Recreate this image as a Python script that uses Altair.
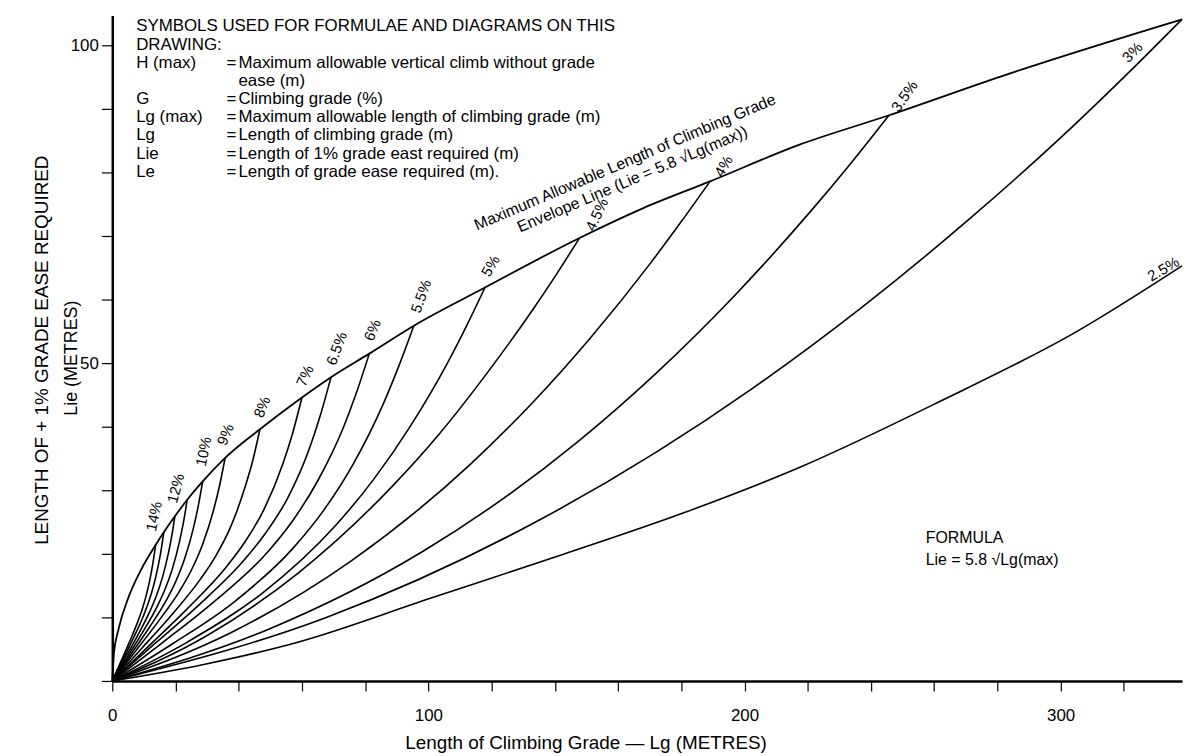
import altair as alt
import pandas as pd

# ---------------- data ----------------
# Grade curves: Lg (m) and Lie (m) points, origin to envelope
LG_2_5 = [0, 28.9, 58.7, 100.6, 142.5, 181.0, 217.9, 261.9, 303.8, 338.4]
LIE_2_5 = [0, 2.6, 6.1, 13.0, 19.9, 26.5, 33.7, 44.0, 54.6, 65.3]
LG_3 = [0, 67.7, 135.4, 203.0, 236.9, 270.7, 304.6, 321.5, 338.4]
LIE_3 = [0, 9.99, 25.4, 46.2, 58.7, 72.5, 87.6, 95.7, 104.1]
LG_3_5 = [0, 49.1, 98.3, 147.4, 172.0, 196.6, 221.1, 233.4, 245.7]
LIE_3_5 = [0, 8.06, 20.4, 37.7, 48.4, 60.5, 74.0, 81.3, 89.0]
LG_4 = [0, 37.8, 75.6, 113.5, 132.4, 151.3, 170.2, 179.6, 189.1]
LIE_4 = [0, 7.66, 18.9, 34.2, 43.5, 54.0, 65.7, 72.0, 78.6]
LG_4_5 = [0, 29.6, 59.1, 88.7, 103.5, 118.2, 133.0, 140.4, 147.8]
LIE_4_5 = [0, 7.03, 17.1, 30.7, 38.9, 48.2, 58.4, 63.9, 69.7]
LG_5 = [0, 23.6, 47.2, 70.7, 82.5, 94.3, 106.1, 112.0, 117.9]
LIE_5 = [0, 6.08, 13.7, 24.5, 31.6, 40.1, 50.1, 55.8, 61.9]
LG_5_5 = [0, 19.1, 38.2, 57.2, 66.8, 76.3, 85.9, 90.6, 95.4]
LIE_5_5 = [0, 5.86, 12.3, 20.9, 26.8, 34.2, 43.8, 49.5, 55.9]
LG_6 = [0, 16.3, 32.5, 48.8, 56.9, 65.0, 73.2, 77.2, 81.3]
LIE_6 = [0, 6.19, 12.6, 20.1, 25.1, 31.5, 40.0, 45.3, 51.5]
LG_6_5 = [0, 13.8, 27.7, 41.5, 48.4, 55.4, 62.3, 65.7, 69.2]
LIE_6_5 = [0, 6.02, 12.1, 18.9, 23.2, 28.7, 36.5, 41.6, 47.8]
LG_7 = [0, 12.0, 24.0, 36.0, 42.0, 48.0, 54.0, 57.0, 60.0]
LIE_7 = [0, 5.71, 11.5, 17.9, 21.9, 27.0, 34.2, 38.9, 44.6]
LG_8 = [0, 9.34, 18.7, 28.0, 32.7, 37.4, 42.0, 44.4, 46.7]
LIE_8 = [0, 5.15, 10.35, 16.1, 19.65, 24.2, 30.5, 34.6, 39.6]
LG_9 = [0, 7.14, 14.28, 21.42, 24.99, 28.56, 32.13, 33.92, 35.7]
LIE_9 = [0, 4.56, 9.18, 14.26, 17.42, 21.47, 27.06, 30.71, 35.1]
LG_10 = [0, 5.72, 11.44, 17.16, 20.02, 22.88, 25.74, 27.17, 28.6]
LIE_10 = [0, 4.08, 8.21, 12.76, 15.58, 19.21, 24.21, 27.47, 31.4]
LG_11 = [0, 4.74, 9.48, 14.22, 16.59, 18.96, 21.33, 22.52, 23.7]
LIE_11 = [0, 3.76, 7.56, 11.74, 14.3, 17.58, 22.07, 24.98, 28.5]
LG_12 = [0, 3.96, 7.92, 11.88, 13.86, 15.84, 17.82, 18.81, 19.8]
LIE_12 = [0, 3.52, 7.07, 10.95, 13.3, 16.26, 20.26, 22.82, 25.9]
LG_13 = [0, 3.26, 6.52, 9.78, 11.41, 13.04, 14.67, 15.49, 16.3]
LIE_13 = [0, 3.27, 6.58, 10.15, 12.29, 14.94, 18.47, 20.72, 23.4]
LG_14 = [0, 2.74, 5.48, 8.22, 9.59, 10.96, 12.33, 13.02, 13.7]
LIE_14 = [0, 3.08, 6.19, 9.53, 11.49, 13.9, 17.05, 19.04, 21.4]

# Envelope line  Lie = 5.8 sqrt(Lg(max))
ENV_LG = [0, 0.5, 2, 5, 9, 13.7, 16.3, 19.8, 23.7, 28.6, 35.7, 46.7, 60.0, 69.2,
          81.3, 95.4, 117.9, 147.8, 168, 189.1, 217, 245.7, 284, 338.4]
ENV_LIE = [0, 4.2, 8.2, 13.0, 17.4, 21.4, 23.4, 25.9, 28.5, 31.4, 35.1, 39.6, 44.6, 47.8,
           51.5, 55.9, 61.9, 69.7, 74.4, 78.6, 84.3, 89.0, 95.6, 104.1]

# Curve labels
LABEL_TEXT = ["14%", "12%", "10%", "9%", "8%", "7%", "6.5%", "6%", "5.5%", "5%",
              "4.5%", "4%", "3.5%", "3%", "2.5%"]
LABEL_LG = [13.2, 20.1, 28.9, 35.8, 47.4, 61.0, 71.0, 82.3, 97.7, 119.7, 153.3, 193.4, 250.6, 322.7, 332.5]
LABEL_LIE = [25.9, 30.3, 36.1, 38.75, 43.1, 48.0, 52.3, 55.2, 60.5, 65.3, 73.4, 81.0, 92.0, 98.9, 64.8]
LABEL_ANGLE = [282, 285, 282, 292, 292, 295, 290, 292, 290, 300, 295, 300, 305, 315, 330]

ENV_TEXT = ["Maximum Allowable Length of Climbing Grade",
            "Envelope Line (Lie = 5.8 \u221aLg(max))"]
ENV_TEXT_LG = [162.2, 164.5]
ENV_TEXT_LIE = [81.6, 78.9]

LEGEND_HEAD = ["SYMBOLS USED FOR FORMULAE AND DIAGRAMS ON THIS", "DRAWING:"]
LEGEND_SYMBOL = ["H (max)", "", "G", "Lg (max)", "Lg", "Lie", "Le"]
LEGEND_EQ = ["=", "", "=", "=", "=", "=", "="]
LEGEND_MEANING = ["Maximum allowable vertical climb without grade", "ease (m)",
                  "Climbing grade (%)", "Maximum allowable length of climbing grade (m)",
                  "Length of climbing grade (m)", "Length of 1% grade east required (m)",
                  "Length of grade ease required (m)."]
FORMULA_TEXT = ["FORMULA", "Lie = 5.8 \u221aLg(max)"]

X_TITLE = "Length of Climbing Grade \u2014 Lg (METRES)"
Y_TITLE = ["LENGTH OF + 1% GRADE EASE REQUIRED", "Lie (METRES)"]

# ---------------- build tables ----------------
curve_lists = [
    ("2.5%", LG_2_5, LIE_2_5), ("3%", LG_3, LIE_3), ("3.5%", LG_3_5, LIE_3_5),
    ("4%", LG_4, LIE_4), ("4.5%", LG_4_5, LIE_4_5), ("5%", LG_5, LIE_5),
    ("5.5%", LG_5_5, LIE_5_5), ("6%", LG_6, LIE_6), ("6.5%", LG_6_5, LIE_6_5),
    ("7%", LG_7, LIE_7), ("8%", LG_8, LIE_8), ("9%", LG_9, LIE_9),
    ("10%", LG_10, LIE_10), ("11%", LG_11, LIE_11), ("12%", LG_12, LIE_12),
    ("13%", LG_13, LIE_13), ("14%", LG_14, LIE_14),
]
rows = []
for g, xs_, ys_ in curve_lists:
    for i, (a, b) in enumerate(zip(xs_, ys_)):
        rows.append({"grade": g, "lg": a, "lie": b, "ord": i})
curves = pd.DataFrame(rows)
env = pd.DataFrame({"lg": ENV_LG, "lie": ENV_LIE, "ord": list(range(len(ENV_LG)))})
labels = pd.DataFrame({"lg": LABEL_LG, "lie": LABEL_LIE, "text": LABEL_TEXT, "angle": LABEL_ANGLE})
envtext = pd.DataFrame({"lg": ENV_TEXT_LG, "lie": ENV_TEXT_LIE, "text": ENV_TEXT})

FONT = "Liberation Sans"
W, H = 1077, 670

xscale = alt.Scale(domain=[0, 338.4], nice=False, zero=False)
yscale = alt.Scale(domain=[0, 104.7], nice=False, zero=False)
x_axis = alt.Axis(values=list(range(0, 321, 20)),
                  labelExpr="datum.value % 100 === 0 ? datum.label : ''",
                  tickSize=10, tickWidth=1.2, tickColor="black",
                  domainColor="black", domainWidth=2.5,
                  labelFontSize=17, labelFont=FONT, labelColor="black",
                  labelPadding=17, labelOverlap=False, labelFlush=False,
                  grid=False, title=None)
y_axis = alt.Axis(values=list(range(0, 101, 10)),
                  labelExpr="datum.value === 50 || datum.value === 100 ? datum.label : ''",
                  tickSize=11, tickWidth=1.2, tickColor="black",
                  domainColor="black", domainWidth=2.5,
                  labelFontSize=17, labelFont=FONT, labelColor="black",
                  labelPadding=3, labelOverlap=False, labelFlush=False,
                  grid=False, title=None)


def X():
    return alt.X("lg:Q", scale=xscale, axis=x_axis)


def Y():
    return alt.Y("lie:Q", scale=yscale, axis=y_axis)


lines = alt.Chart(curves).mark_line(color="black", strokeWidth=1.6,
                                    interpolate="monotone").encode(
    x=X(), y=Y(), detail="grade:N", order="ord:Q")

envelope = alt.Chart(env).mark_line(color="black", strokeWidth=1.8,
                                    interpolate="monotone").encode(
    x=X(), y=Y(), order="ord:Q")

grade_labels = alt.Chart(labels).mark_text(font=FONT, fontSize=15, color="black",
                                           align="center", baseline="middle").encode(
    x=X(), y=Y(), text="text:N", angle=alt.Angle("angle:Q", scale=None))

env_labels = alt.Chart(envtext).mark_text(font=FONT, fontSize=16, color="black",
                                          align="center", baseline="middle",
                                          angle=337).encode(
    x=X(), y=Y(), text="text:N")

one = pd.DataFrame({"k": [0]})


def txt(s, px, py, size=17, angle=0, align="left"):
    kw = dict(text=s, font=FONT, fontSize=size, color="black",
              align=align, baseline="middle")
    if angle:
        kw["angle"] = angle
    return alt.Chart(one).mark_text(**kw).encode(x=alt.value(px), y=alt.value(py))


layers = [lines, envelope, grade_labels, env_labels]

# legend block
LEG_X0, LEG_EQ, LEG_DESC = 24, 115, 127
LEG_Y0, LEG_DY = 11, 18.3
for i, s in enumerate(LEGEND_HEAD):
    layers.append(txt(s, LEG_X0, LEG_Y0 + LEG_DY * i))
for j, (sym, eq, mean) in enumerate(zip(LEGEND_SYMBOL, LEGEND_EQ, LEGEND_MEANING)):
    py = LEG_Y0 + LEG_DY * (j + 2)
    if sym:
        layers.append(txt(sym, LEG_X0, py))
    if eq:
        layers.append(txt(eq, LEG_EQ, py))
    layers.append(txt(mean, LEG_DESC, py))

# formula block
layers.append(txt(FORMULA_TEXT[0], 819, 526, size=16))
layers.append(txt(FORMULA_TEXT[1], 819, 548, size=16))

# axis titles
layers.append(txt(X_TITLE, 477, 732, size=19, align="center"))
layers.append(txt(Y_TITLE[0], -71, 337, size=19, angle=270, align="center"))
layers.append(txt(Y_TITLE[1], -41, 345, size=18, angle=270, align="center"))

chart = alt.layer(*layers).properties(
    width=W, height=H,
    padding={"left": 105, "top": 5, "right": 3, "bottom": 72},
    autosize=alt.AutoSizeParams(type="none"),
    background="white",
).configure_view(stroke=None)

chart.save("out.html", embed_options={"renderer": "svg", "actions": False})
